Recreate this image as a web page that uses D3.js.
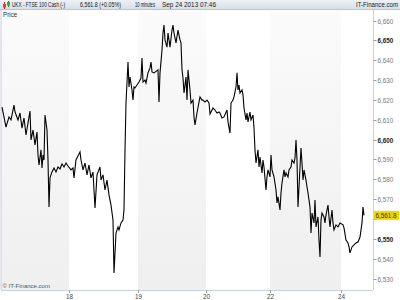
<!DOCTYPE html>
<html><head><meta charset="utf-8">
<script src="https://cdn.jsdelivr.net/npm/d3@7"></script>
<style>body{margin:0;background:#fff}svg{display:block;font-family:"Liberation Sans",Arial,sans-serif}</style>
</head><body><svg id="c" width="400" height="300"></svg>
<script>
const bars = [1,5,8,10,13,14,17,19,21,23,25,27,29,30,32,34,36,37,38,40,41,42,43,44,46,47,48,49,51,53,55,57,59,61,63,65,67,70,72,73,75,79,80,82,84,86,88,90,92,94,96,99,100,102,104,106,108,110,112,113,115,117,118,120,122,123,124,125,127,128,129,131,132,133,134,136,138,140,141,142,144,145,147,149,150,151,153,157,158,159,161,162,163,164,166,167,169,171,172,173,175,177,179,180,181,182,183,185,186,187,189,190,192,193,194,196,198,199,201,202,204,206,208,209,212,214,216,218,219,221,223,226,227,229,230,232,233,235,236,237,238,239,241,242,243,245,246,247,249,250,252,253,254,255,257,258,259,261,262,263,265,266,267,269,270,271,273,275,276,277,279,280,281,283,284,285,287,288,290,291,293,294,295,296,297,298,300,301,302,303,305,306,307,309,310,311,313,314,315,317,318,319,320,321,323,324,325,327,328,329,331,332,333,335,337,339,342,343,345,347,348,349,351,353,355,357,359,361,362,363];
const prices = [6616.4,6606.3,6611.4,6609.9,6617.4,6613.9,6609.9,6613.4,6605.8,6610.9,6602.3,6608.4,6614.4,6599.8,6604.8,6597.3,6603.8,6592.2,6587.2,6594.8,6585.7,6592.2,6589.7,6612.4,6604.8,6589.7,6566.0,6580.7,6583.7,6585.7,6583.7,6586.2,6585.2,6587.7,6586.2,6588.2,6586.7,6584.7,6585.7,6580.7,6589.7,6593.8,6589.7,6584.7,6588.2,6582.2,6587.2,6580.7,6583.7,6565.5,6582.2,6586.2,6579.6,6582.2,6574.6,6579.6,6572.1,6567.0,6559.5,6532.8,6552.9,6556.0,6554.5,6558.0,6559.5,6564.5,6594.8,6618.4,6639.1,6626.5,6631.5,6625.0,6619.9,6626.5,6626.0,6627.5,6629.0,6631.0,6641.1,6629.0,6630.0,6628.5,6633.6,6636.1,6639.1,6634.1,6633.6,6635.1,6618.9,6633.6,6645.1,6653.7,6657.7,6650.2,6646.6,6653.7,6646.6,6655.2,6657.7,6653.7,6648.7,6655.2,6650.2,6648.7,6635.1,6631.0,6623.5,6631.5,6619.9,6635.1,6625.0,6618.4,6619.9,6611.4,6607.4,6613.4,6618.9,6621.5,6619.9,6619.9,6618.9,6619.9,6618.4,6612.9,6615.9,6614.9,6613.4,6613.9,6613.4,6610.9,6611.4,6614.9,6608.9,6603.3,6618.4,6619.9,6621.5,6626.5,6633.6,6625.0,6627.5,6623.5,6625.0,6622.5,6615.9,6609.9,6613.4,6608.9,6613.9,6609.9,6612.4,6605.8,6594.8,6588.2,6594.8,6586.2,6591.2,6583.2,6589.7,6586.2,6574.6,6581.2,6584.7,6581.2,6592.2,6584.7,6581.2,6574.6,6568.1,6571.1,6564.5,6573.1,6578.1,6584.7,6581.2,6583.2,6581.2,6584.7,6586.2,6589.7,6588.2,6590.7,6599.8,6589.7,6566.0,6576.1,6595.8,6588.2,6579.6,6584.7,6579.6,6576.1,6573.1,6566.0,6552.9,6563.0,6558.0,6569.6,6556.0,6561.0,6549.4,6540.9,6559.5,6563.0,6561.0,6558.0,6562.0,6567.0,6561.0,6556.0,6564.5,6558.0,6554.5,6557.0,6556.0,6558.0,6557.0,6555.5,6549.4,6547.9,6545.9,6542.9,6545.9,6546.9,6547.9,6548.4,6550.9,6558.0,6566.0,6561.8];
const dayLabels = ["18","19","20","22","24"];
const dayStartBar = [68,137,205,269,340];
const yTicks = [6530,6540,6550,6560,6570,6580,6590,6600,6610,6620,6630,6640,6650,6660];
const lastPrice = 6561.8;
const titleParts = ["UKX - FTSE 100 Cash (-)","6,561.8 (+0.05%)","10 minutes","Sep 24 2013 07:46"];

const svg = d3.select("#c");
const L=1, R=373, T=10, B=290;
const x = d3.scaleLinear().domain([0,372]).range([L,R]);
const y = d3.scaleLinear().domain([6530,6660]).range([278.5,20.5]);
const fmt = d3.format(",.0f");

const defs = svg.append("defs");
const g1 = defs.append("linearGradient").attr("id","band").attr("x1",0).attr("y1",0).attr("x2",0).attr("y2",1);
g1.append("stop").attr("offset","0").attr("stop-color","#fbfbfb");
g1.append("stop").attr("offset","1").attr("stop-color","#efefef");
const g2 = defs.append("linearGradient").attr("id","hdr").attr("x1",0).attr("y1",0).attr("x2",0).attr("y2",1);
g2.append("stop").attr("offset","0").attr("stop-color","#eef2f6");
g2.append("stop").attr("offset","1").attr("stop-color","#d6dee6");

// header
svg.append("rect").attr("x",0).attr("y",0).attr("width",400).attr("height",9.5).attr("fill","url(#hdr)");
svg.append("line").attr("x1",0).attr("x2",400).attr("y1",9.5).attr("y2",9.5).attr("stroke","#b8c4d0");
// icon
svg.append("line").attr("x1",4.5).attr("x2",4.5).attr("y1",2).attr("y2",9).attr("stroke","#c03030");
svg.append("rect").attr("x",3).attr("y",4).attr("width",3).attr("height",3.5).attr("fill","#e04040");
svg.append("line").attr("x1",8.5).attr("x2",8.5).attr("y1",1).attr("y2",7).attr("stroke","#208020");
svg.append("rect").attr("x",7).attr("y",2).attr("width",3).attr("height",3.5).attr("fill","#30b030");
function squeezed(t, x0, w){
  const g = svg.append("g");
  const el = g.append("text").attr("font-size",6.5).attr("fill","#1a1a1a").text(t);
  const nat = el.node().getComputedTextLength();
  g.attr("transform",`translate(${x0},7.3) scale(${w/nat},1)`);
}
const tx=[12,80,135,162], tw=[53,41,20,54];
titleParts.forEach((t,i)=>squeezed(t,tx[i],tw[i]));
squeezed("IT-Finance.com",356,42);

// bands
const bounds = [0,...dayStartBar,372];
for(let i=0;i<bounds.length-1;i+=2){
  svg.append("rect").attr("x",x(bounds[i])).attr("y",T).attr("width",x(bounds[i+1])-x(bounds[i])).attr("height",B-T).attr("fill","url(#band)");
}
// frame
svg.append("line").attr("x1",L).attr("x2",L).attr("y1",T).attr("y2",B).attr("stroke","#c8d0d8");
svg.append("line").attr("x1",L).attr("x2",R).attr("y1",B+0.5).attr("y2",B+0.5).attr("stroke","#c8d0d8");
svg.append("line").attr("x1",R+0.5).attr("x2",R+0.5).attr("y1",T).attr("y2",B).attr("stroke","#c8d0d8");

svg.append("text").attr("x",3).attr("y",16.5).attr("font-size",6.3).attr("fill","#333").text("Price");
svg.append("text").attr("x",2.5).attr("y",288).attr("font-size",6).attr("fill","#555").text("\u00a9 IT-Finance.com");

// y axis
const ly = y(lastPrice);
const ya = svg.append("g");
yTicks.forEach(v=>{
  const yy=Math.round(y(v))+0.5;
  const strong = v%50===0;
  ya.append("line").attr("x1",R+0.5).attr("x2",R+3.5).attr("y1",yy).attr("y2",yy).attr("stroke","#999");
  if(Math.abs(yy-ly)>8)
    ya.append("text").attr("x",R+4.5).attr("y",yy+2.2).attr("font-size",6.3).attr("fill",strong?"#222":"#777").attr("font-weight",strong?"bold":"normal").text(fmt(v));
});
// x axis
dayLabels.forEach((d,i)=>{
  const xx=Math.round(x(dayStartBar[i]))+0.5;
  svg.append("line").attr("x1",xx).attr("x2",xx).attr("y1",B+0.5).attr("y2",B+3).attr("stroke","#999");
  svg.append("text").attr("x",xx).attr("y",298.5).attr("text-anchor","middle").attr("font-size",6.3).attr("fill","#444").text(d);
});

// price line
const line = d3.line().x((d,i)=>x(bars[i])).y(d=>y(d));
svg.append("path").attr("d",line(prices)).attr("fill","none").attr("stroke","#000").attr("stroke-width",1.1).attr("stroke-linejoin","miter");

// last price marker
svg.append("rect").attr("x",R+1).attr("y",ly-4.5).attr("width",25).attr("height",9).attr("fill","#f2d600");
svg.append("text").attr("x",R+2.5).attr("y",ly+2.3).attr("font-size",6.3).attr("fill","#333").text(d3.format(",.1f")(lastPrice));
</script></body></html>
